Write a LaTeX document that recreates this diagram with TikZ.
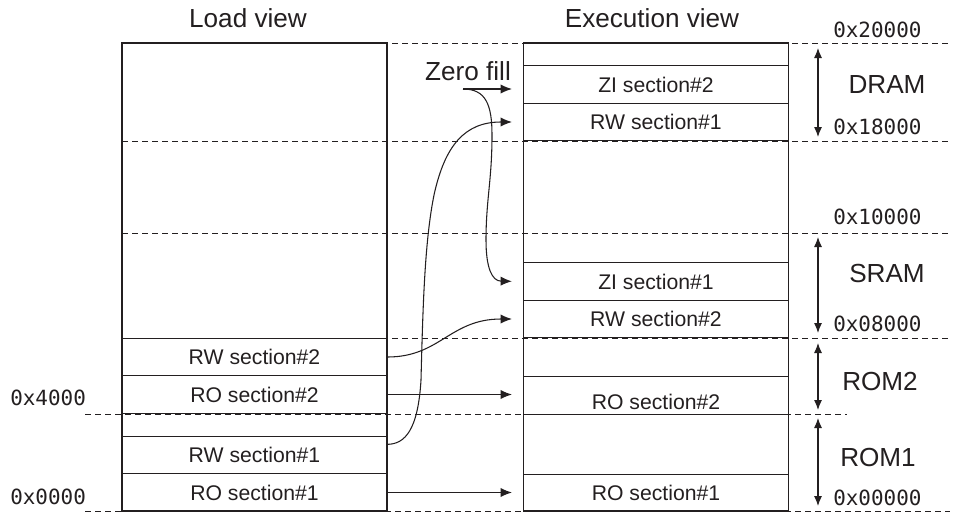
\documentclass[tikz,border=0pt]{standalone}
\usepackage{fontspec}
\setmainfont{Liberation Sans}
\newfontfamily\hexfont{DejaVu Sans Mono}
\usetikzlibrary{calc}
\usetikzlibrary{arrows.meta}
\usepackage{xcolor}
\definecolor{ink}{HTML}{231F20}
\newcommand{\secfont}{\fontsize{15.9}{18}\selectfont}
\newcommand{\bigfont}{\fontsize{19.6}{22}\selectfont}
\newcommand{\addrfont}{\hexfont\fontsize{15.7}{18}\selectfont}

\begin{document}
\begin{tikzpicture}[x=0.75pt,y=-0.75pt,
  every node/.style={text=ink},
  memory/.style={draw=ink,line width=0.9pt,minimum width=198.75pt,minimum height=351pt,inner sep=0pt},
  section/.style={draw=ink,line width=0.9pt,minimum width=198.75pt,minimum height=28.1pt,inner sep=0pt,font=\secfont},
  guide/.style={draw=ink,line width=0.6pt,dash pattern=on 4.5pt off 3pt},
  flow/.style={draw=ink,line width=0.8pt,-{Latex[length=8.5pt,width=7pt]},shorten >=8.25pt},
  span/.style={draw=ink,line width=0.8pt,{Latex[length=7.5pt,width=6pt]}-{Latex[length=7.5pt,width=6pt]}},
  addr/.style={font=\addrfont,anchor=west,inner sep=0pt},
  region/.style={font=\bigfont}]
\useasboundingbox (0,0) rectangle (960,514);

% address lines
\draw[guide] (312,43) -- (950,43);
\draw[guide] (122,141) -- (950,141);
\draw[guide] (122,233) -- (950,233);
\draw[guide] (122,338) -- (950,338);
\draw[guide] (85,414) -- (847,414);
\draw[guide] (85,511) -- (950,511);

\node[font=\bigfont] (loadtitle) at (248,18) {Load view};
\node[font=\bigfont] (exectitle) at (652,18) {Execution view};

\node[memory] (loadbox) at (254.5,277) {};
\node[memory] (execbox) at (656,277) {};

% load view
\node[section] (lrw2) at (254.5,357) {RW section\#2};
\node[section] (lro2) at (254.5,394.5) {RO section\#2};
\node[section] (lrw1) at (254.5,455) {RW section\#1};
\node[section] (lro1) at (254.5,492.5) {RO section\#1};

% execution view
\node[section] (rzi2) at (656,84.5) {ZI section\#2};
\node[section] (rrw1) at (656,122) {RW section\#1};
\node[section] (rzi1) at (656,281.5) {ZI section\#1};
\node[section] (rrw2) at (656,319) {RW section\#2};
\node[section,text height=21pt,text depth=0pt] (rro2) at (656,395.5) {RO section\#2};
\node[section] (rro1) at (656,493) {RO section\#1};

% addresses
\node[addr] (a20000) at (833,30) {0x20000};
\node[addr] (a18000) at (833,127) {0x18000};
\node[addr] (a10000) at (833,217) {0x10000};
\node[addr] (a08000) at (833,324) {0x08000};
\node[addr] (a00000) at (833,498) {0x00000};
\node[addr] (a4000) at (10,398) {0x4000};
\node[addr] (a0000) at (10,497) {0x0000};

% regions
\node[region] (dram) at (887,85) {DRAM};
\node[region] (sram) at (887,274) {SRAM};
\node[region] (rom2) at (880,381) {ROM2};
\node[region] (rom1) at (878,457) {ROM1};
\draw[span] (818,48) -- (818,137);
\draw[span] (818,237) -- (818,333);
\draw[span] (818,343) -- (818,410);
\draw[span] (818,418) -- (818,506);

% copies
\node (zerofill) at (468,71) {\bigfont Zero fill};
\coordinate (zfstart) at (463,89);
\draw[flow] (zfstart) -- (zfstart -| rzi2.west);
\draw[flow] (zfstart) .. controls (486,89) and (492,105) .. (492,135)
  .. controls (492,180) and (486,200) .. (486,240)
  .. controls (486,268) and (492,281) .. (rzi1.west);
\draw[flow] (lro2.east) -- (lro2.east -| rro2.west);
\draw[flow] (lro1.east) -- (lro1.east -| rro1.west);
\draw[flow] (lrw2.east) .. controls (440,357) and (450,319) .. (rrw2.west);
\draw[flow] ([yshift=8pt]lrw1.east) .. controls (405,444) and (418,430) .. (421,380)
  .. controls (423,300) and (425,240) .. (434,195)
  .. controls (445,145) and (465,122) .. (rrw1.west);

\end{tikzpicture}
\end{document}
